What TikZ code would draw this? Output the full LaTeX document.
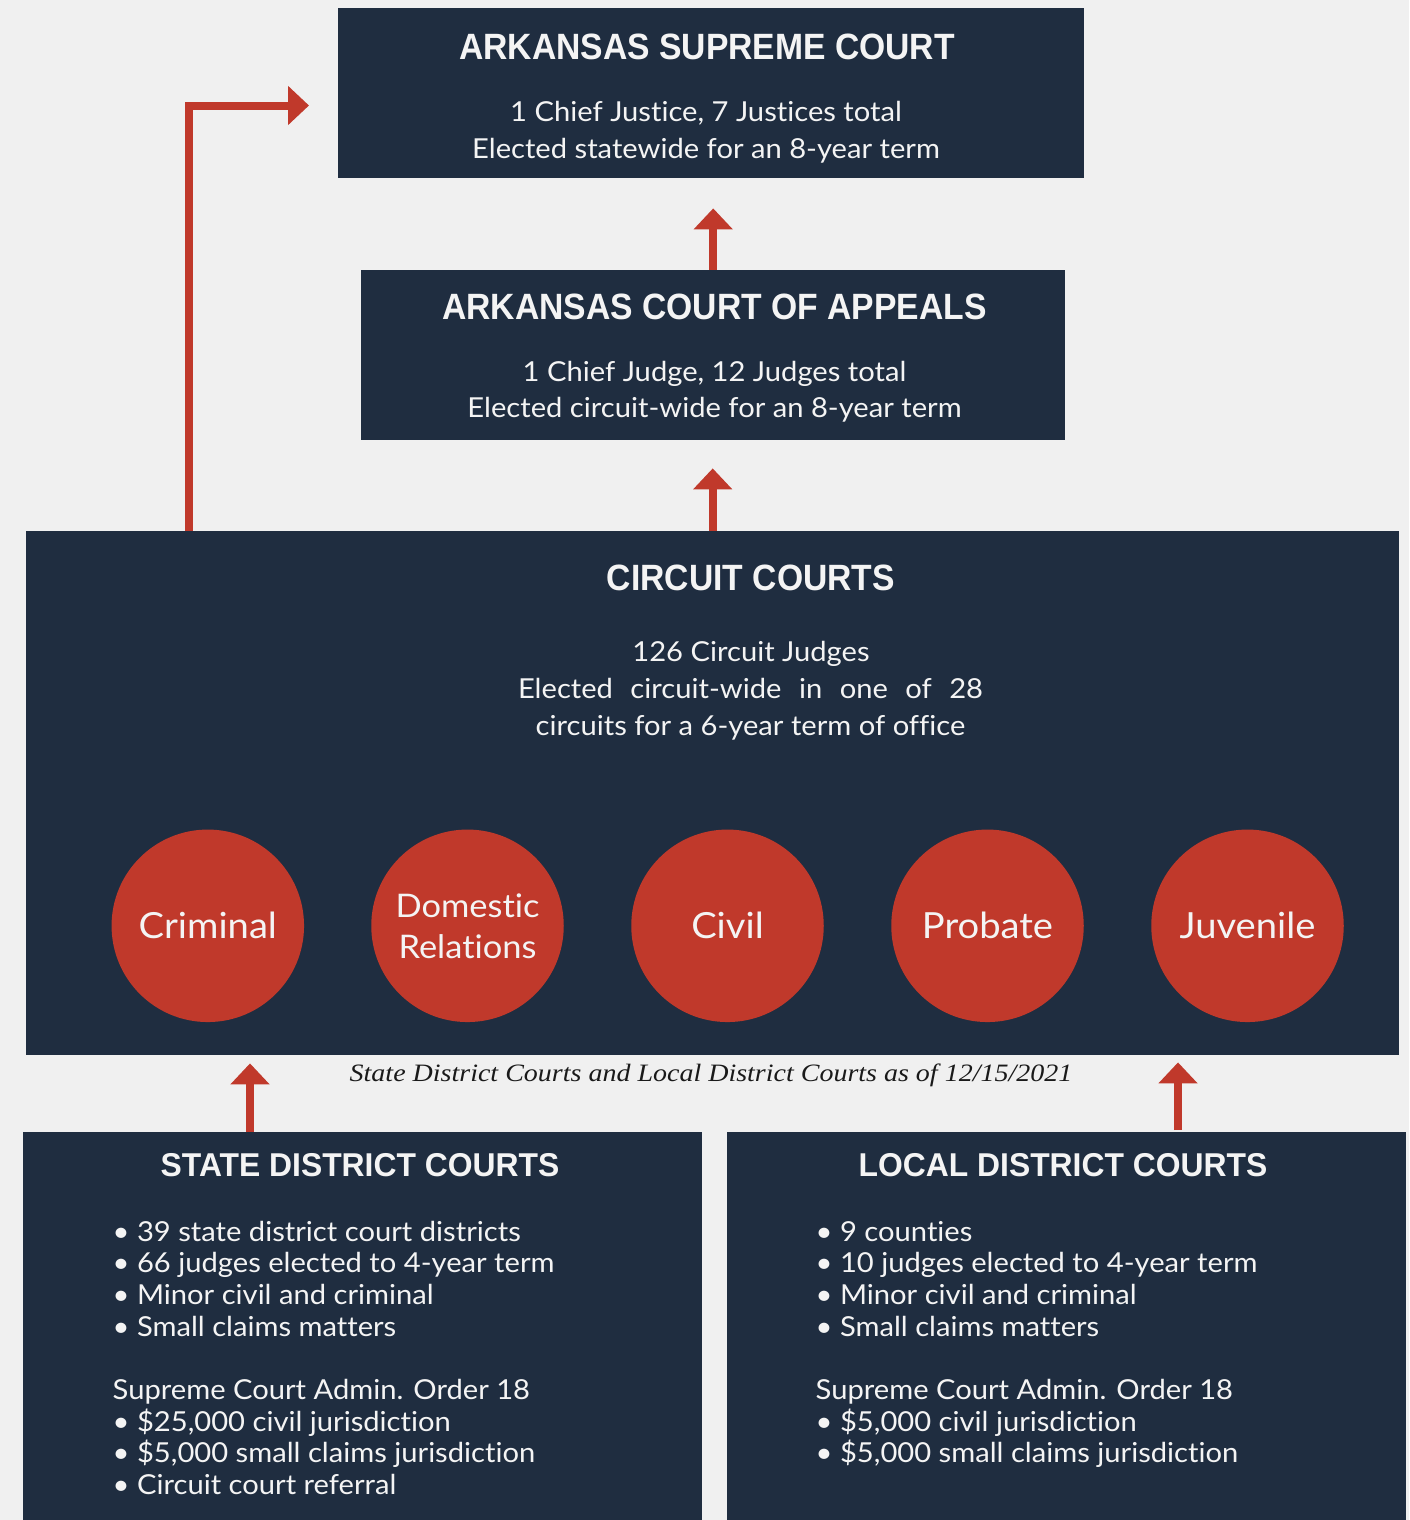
\documentclass[tikz,border=0pt]{standalone}
\usepackage{fontspec}
\usetikzlibrary{arrows.meta}
\newfontfamily\latofont[FakeStretch=1.06,Ligatures=NoCommon]{Lato}
\newfontfamily\headfont[FakeStretch=0.92]{Liberation Sans}
\newfontfamily\headsmfont[FakeStretch=0.965]{Liberation Sans}
\newfontfamily\capfont[FakeStretch=1.12]{Liberation Serif}
\definecolor{navy}{HTML}{1F2D40}
\definecolor{crim}{HTML}{C0392B}
\definecolor{bgc}{HTML}{F0F0F0}
\definecolor{txt}{HTML}{F4F4F4}
\definecolor{captxt}{HTML}{1A1A1A}
\tikzset{
  panel/.style={fill=navy, draw=none, inner sep=0pt, anchor=north west},
  court/.style={circle, fill=crim, draw=none, minimum size=192.5pt, inner sep=0pt, text=txt, align=center},
  ttl/.style={anchor=base, inner sep=0pt, text=txt, font=\headfont\bfseries\fontsize{36.6}{40}\selectfont},
  ttlsm/.style={anchor=base, inner sep=0pt, text=txt, font=\headsmfont\bfseries\fontsize{33}{36}\selectfont},
  body/.style={anchor=base, inner sep=0pt, text=txt, font=\latofont\fontsize{27.5}{36}\selectfont},
  item/.style={anchor=base west, inner sep=0pt, text=txt, font=\latofont\fontsize{27.5}{32}\selectfont},
  arr/.style={draw=crim, line width=8pt, -{Triangle[width=38pt,length=21pt]}}
}
\begin{document}
\begin{tikzpicture}[x=1pt,y=-1pt]
\path[use as bounding box, fill=bgc] (0,0) rectangle (1409,1520);

% panels
\node[panel, minimum width=746pt, minimum height=170pt] (sup) at (338,8) {};
\node[panel, minimum width=704pt, minimum height=170pt] (app) at (361,270) {};
\node[panel, minimum width=1373pt, minimum height=524pt] (cc) at (26,531) {};
\node[panel, minimum width=679pt, minimum height=388pt] (sdc) at (23,1132) {};
\node[panel, minimum width=679pt, minimum height=388pt] (ldc) at (727,1132) {};

% supreme court text
\node[ttl] (supT) at (707,59.3) {ARKANSAS SUPREME COURT};
\node[body] (sup1) at (706,121.7) {1 Chief Justice, 7 Justices total};
\node[body] (sup2) at (706,158.3) {Elected statewide for an 8-year term};

% appeals text
\node[ttl] (appT) at (714.5,319.5) {ARKANSAS COURT OF APPEALS};
\node[body] (app1) at (714.5,381) {1 Chief Judge, 12 Judges total};
\node[body] (app2) at (714.5,417.5) {Elected circuit-wide for an 8-year term};

% circuit text
\node[ttl] (ccT) at (751,590.7) {CIRCUIT COURTS};
\node[body] (cc1) at (751,661.7) {126 Circuit Judges};
\node[body] (cc2) at (750.5,698.3) {\makebox[465pt][s]{Elected circuit-wide in one of 28}};
\node[body] (cc3) at (750.5,735) {circuits for a 6-year term of office};

% circles
\node[court, font=\latofont\fontsize{36}{41}\selectfont] (crim) at (207.8,925.8) {Criminal};
\node[court, font=\latofont\fontsize{32.5}{41}\selectfont] (dom) at (467.5,925.8) {Domestic\\Relations};
\node[court, font=\latofont\fontsize{36}{41}\selectfont] (civ) at (727.5,925.8) {Civil};
\node[court, font=\latofont\fontsize{36}{41}\selectfont] (prob) at (987.5,925.8) {Probate};
\node[court, font=\latofont\fontsize{36}{41}\selectfont] (juv) at (1247.5,925.8) {Juvenile};

% caption
\node[anchor=base, inner sep=0pt, text=captxt, font=\capfont\itshape\fontsize{25}{28}\selectfont] (cap) at (711,1081.7)
  {State District Courts and Local District Courts as of 12/15/2021};

% state district
\node[ttlsm] (sdT) at (360,1176) {STATE DISTRICT COURTS};
\foreach \t [count=\i from 0] in {{• 39 state district court districts},{• 66 judges elected to 4-year term},{• Minor civil and criminal},{• Small claims matters}}
  \node[item] (sdA\i) at (112.5,1241+31.7*\i) {\t};
\foreach \t [count=\i from 0] in {{Supreme Court Admin. Order 18},{• \$25,000 civil jurisdiction},{• \$5,000 small claims jurisdiction},{• Circuit court referral}}
  \node[item] (sdB\i) at (112.5,1399.5+31.7*\i) {\t};

% local district
\node[ttlsm] (ldT) at (1063,1176) {LOCAL DISTRICT COURTS};
\foreach \t [count=\i from 0] in {{• 9 counties},{• 10 judges elected to 4-year term},{• Minor civil and criminal},{• Small claims matters}}
  \node[item] (ldA\i) at (815.5,1241+31.7*\i) {\t};
\foreach \t [count=\i from 0] in {{Supreme Court Admin. Order 18},{• \$5,000 civil jurisdiction},{• \$5,000 small claims jurisdiction}}
  \node[item] (ldB\i) at (815.5,1399.5+31.7*\i) {\t};

% arrows
\draw[arr, shorten >=30pt] (app.north) -- (app.north |- sup.south);
\draw[arr, shorten >=28pt] (cc.north) -- (cc.north |- app.south);
\coordinate (elbS) at (188.5,531);
\coordinate (elbT) at (309,105.5);
\draw[arr] (elbS) |- (elbT);
\coordinate (sdX) at (250,1100);
\coordinate (ldX) at (1178,1100);
\draw[arr, shorten >=8pt] (sdX |- sdc.north) -- (sdX |- cc.south);
\draw[arr, shorten >=7pt] (ldX |- ldc.north) ++(0,-2) -- (ldX |- cc.south);
\end{tikzpicture}
\end{document}
